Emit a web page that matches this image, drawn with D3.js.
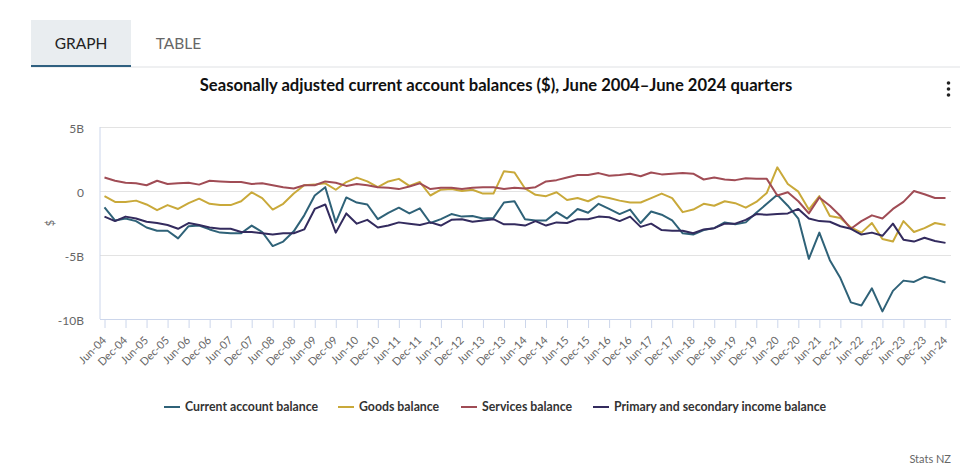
<!DOCTYPE html>
<html>
<head>
<meta charset="utf-8">
<script src="https://cdn.jsdelivr.net/npm/d3@7"></script>
<style>
html, body { margin: 0; padding: 0; background: #fff; overflow: hidden; }
text { font-family: Lato, "Open Sans", sans-serif; }
.axis path { display: none; }
</style>
</head>
<body>
<svg id="canvas" width="975" height="470"></svg>
<script>
// quarters run Jun-04 to Jun-24, one label every second quarter
const years = d3.range(4, 25)
const quarters = years.flatMap(y => {
    let yy = String(y).padStart(2, "0")
    return [`Mar-${yy}`, `Jun-${yy}`, `Sep-${yy}`, `Dec-${yy}`]
}).slice(1, 82)
const tickLabels = quarters.filter((q, i) => i % 2 === 0)
const yTicks = [5, 0, -5, -10]

const currentAccount = [-1.17,-2.2,-2.05,-2.25,-2.75,-3.0,-3.0,-3.6,-2.65,-2.6,-2.9,-3.15,-3.2,-3.2,-2.6,-3.1,-4.2,-3.85,-3.05,-1.8,-0.25,0.4,-2.35,-0.4,-0.8,-0.95,-2.1,-1.6,-1.2,-1.65,-1.25,-2.4,-2.1,-1.7,-1.9,-1.85,-2.05,-2.0,-0.8,-0.7,-2.1,-2.2,-2.2,-1.55,-2.05,-1.3,-1.6,-0.9,-1.3,-1.7,-1.35,-2.4,-1.5,-1.75,-2.2,-3.2,-3.3,-2.95,-2.8,-2.35,-2.5,-2.35,-1.6,-0.9,-0.2,-1.05,-2.05,-5.2,-3.15,-5.3,-6.7,-8.6,-8.85,-7.5,-9.3,-7.7,-6.9,-7.0,-6.6,-6.8,-7.05]
const goods = [-0.3,-0.75,-0.75,-0.65,-0.95,-1.4,-1.0,-1.3,-0.85,-0.5,-0.9,-1.0,-1.0,-0.7,0,-0.45,-1.35,-0.9,-0.1,0.55,0.6,0.7,0.2,0.8,1.15,0.85,0.4,0.85,1.05,0.5,0.8,-0.25,0.2,0.25,0.1,0.2,-0.1,-0.1,1.65,1.55,0.3,-0.2,-0.3,0,-0.6,-0.45,-0.7,-0.3,-0.45,-0.65,-0.8,-0.8,-0.45,-0.1,-0.45,-1.55,-1.35,-0.9,-1.05,-0.7,-0.85,-1.2,-0.75,-0.05,1.95,0.65,0.05,-1.35,-0.3,-1.85,-2.0,-2.75,-3.15,-2.4,-3.65,-3.85,-2.25,-3.1,-2.8,-2.4,-2.55]
const services = [1.15,0.9,0.75,0.7,0.55,0.9,0.65,0.7,0.75,0.6,0.9,0.85,0.8,0.8,0.65,0.7,0.55,0.4,0.3,0.55,0.55,0.85,0.75,0.5,0.65,0.55,0.4,0.35,0.25,0.45,0.7,0.25,0.35,0.35,0.25,0.35,0.4,0.4,0.25,0.35,0.3,0.4,0.85,0.95,1.15,1.35,1.35,1.5,1.3,1.35,1.45,1.25,1.55,1.4,1.45,1.5,1.45,1.0,1.15,1.0,0.95,1.1,1.05,1.05,-0.25,0,-0.7,-1.65,-0.4,-1.05,-1.85,-2.85,-2.25,-1.8,-2.05,-1.3,-0.75,0.1,-0.15,-0.45,-0.45]
const income = [-1.9,-2.25,-1.9,-2.05,-2.3,-2.4,-2.55,-2.85,-2.4,-2.55,-2.75,-2.85,-2.85,-3.1,-3.1,-3.2,-3.3,-3.2,-3.2,-2.9,-1.3,-0.95,-3.15,-1.65,-2.45,-2.15,-2.75,-2.6,-2.35,-2.45,-2.55,-2.35,-2.6,-2.15,-2.1,-2.3,-2.2,-2.1,-2.5,-2.5,-2.6,-2.25,-2.6,-2.35,-2.4,-2.1,-2.1,-1.9,-1.95,-2.25,-1.9,-2.7,-2.45,-2.95,-3.0,-3.0,-3.2,-2.9,-2.8,-2.45,-2.45,-2.15,-1.7,-1.75,-1.7,-1.65,-1.3,-2.05,-2.25,-2.3,-2.65,-2.85,-3.3,-3.15,-3.4,-2.45,-3.7,-3.85,-3.55,-3.8,-3.95]

const seriesNames = ["Current account balance", "Goods balance", "Services balance", "Primary and secondary income balance"]
const seriesValues = [currentAccount, goods, services, income]
const seriesColors = ["#2f6278", "#c9a93a", "#a04c55", "#332b5e"]
const legendX = [164, 338, 461, 593]

let canvas = d3.select("#canvas")

// tabs
canvas.append("rect").attr("x", 31).attr("y", 20).attr("width", 100).attr("height", 45).attr("fill", "#e9edf0")
canvas.append("line").attr("x1", 31).attr("x2", 960).attr("y1", 67).attr("y2", 67).attr("stroke", "#dfe1e4").attr("stroke-width", 1)
canvas.append("rect").attr("x", 31).attr("y", 65).attr("width", 100).attr("height", 2).attr("fill", "#2f6080")
canvas.append("text").attr("x", 81).attr("y", 49).attr("text-anchor", "middle")
    .attr("font-size", 15.5).attr("fill", "#222").text("GRAPH")
canvas.append("text").attr("x", 178.5).attr("y", 49).attr("text-anchor", "middle")
    .attr("font-size", 15.5).attr("fill", "#666").text("TABLE")

// title
canvas.append("text").attr("x", 496).attr("y", 91).attr("text-anchor", "middle")
    .attr("font-size", 16.6).attr("font-weight", 700).attr("fill", "#111")
    .text("Seasonally adjusted current account balances ($), June 2004\u2013June 2024 quarters")

// menu dots
canvas.append("g").selectAll("circle").data([83, 89, 95]).join("circle")
    .attr("cx", 948.5).attr("cy", d => d).attr("r", 1.8).attr("fill", "#222")

const plotLeft = 100, plotRight = 951, plotTop = 127, plotBottom = 319

let x = d3.scalePoint().domain(quarters).range([104.5, 945.5])
let y = d3.scaleLinear().domain([-10, 5]).range([plotBottom, plotTop])

// y axis and grid
let yAxis = canvas.append("g").attr("class", "axis").attr("transform", `translate(${plotLeft},0)`)
    .call(d3.axisLeft(y).tickValues(yTicks).tickSize(-(plotRight - plotLeft)).tickPadding(16)
        .tickFormat(d => d === 0 ? "0" : `${d}B`))
yAxis.selectAll("line").attr("stroke", d => d === -10 ? "none" : "#e3e3e3")
yAxis.selectAll("text").attr("font-size", 12).attr("fill", "#666").attr("y", 1.5)
canvas.append("line").attr("x1", plotLeft).attr("x2", plotLeft).attr("y1", plotTop).attr("y2", plotBottom).attr("stroke", "#ccd6eb")

canvas.append("text").attr("transform", "translate(54,223) rotate(-90)").attr("text-anchor", "middle")
    .attr("font-size", 11).attr("fill", "#666").text("$")

// x axis
let xAxis = canvas.append("g").attr("class", "axis").attr("transform", `translate(0,${plotBottom})`)
    .call(d3.axisBottom(x).tickValues(tickLabels).tickSize(9))
xAxis.selectAll("line").attr("stroke", "#ccd6eb")
xAxis.selectAll("text").attr("font-size", 11).attr("fill", "#666")
    .attr("text-anchor", "end").attr("y", 0).attr("dy", 0)
    .attr("transform", "translate(2,22) rotate(-45)")
canvas.append("line").attr("x1", plotLeft).attr("x2", plotRight).attr("y1", plotBottom + 0.5).attr("y2", plotBottom + 0.5).attr("stroke", "#ccd6eb")

// lines
let line = d3.line().x((d, i) => x(quarters[i])).y(d => y(d))
canvas.append("g").attr("transform", "translate(0,1.3)")
    .selectAll("path").data(seriesValues).join("path")
    .attr("d", line)
    .attr("fill", "none")
    .attr("stroke", (d, i) => seriesColors[i])
    .attr("stroke-width", 2)
    .attr("stroke-linejoin", "round")

// legend
let legend = canvas.append("g").selectAll("g").data(seriesNames).join("g")
    .attr("transform", (d, i) => `translate(${legendX[i]},407)`)
legend.append("line").attr("x1", 0).attr("x2", 16).attr("stroke", (d, i) => seriesColors[i]).attr("stroke-width", 2)
legend.append("text").attr("x", 21).attr("y", 4).attr("font-size", 12.3).attr("font-weight", 700)
    .attr("fill", "#333").text(d => d)

canvas.append("text").attr("x", 951).attr("y", 463).attr("text-anchor", "end")
    .attr("font-size", 11).attr("fill", "#666").text("Stats NZ")
</script>
</body>
</html>
